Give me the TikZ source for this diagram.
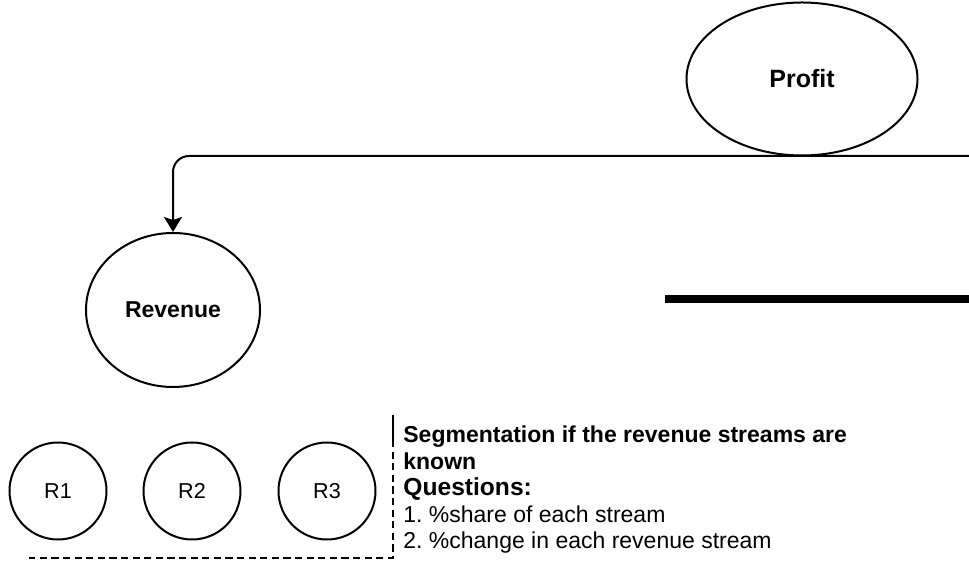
\documentclass[tikz,border=0pt]{standalone}
\usepackage{fontspec}
\setmainfont{Liberation Sans}
\usetikzlibrary{shapes.geometric,arrows.meta}
\frenchspacing

\begin{document}
\begin{tikzpicture}[x=0.5pt,y=-0.5pt,
    oval/.style={draw, ellipse, line width=1pt, inner sep=0pt},
    stream/.style={oval, minimum size=48.5pt, font=\fontsize{10.8}{13}\selectfont},
    link/.style={draw, line width=1pt, rounded corners=8pt, -{Stealth[length=7.5pt,width=9pt,inset=1.5pt]}}]
    \useasboundingbox (0,0) rectangle (969,565);

    \node[oval, minimum width=115.5pt, minimum height=76.5pt, font=\bfseries\fontsize{12.5}{15}\selectfont] (profit) at (802,79) {Profit};
    \node[oval, minimum width=87pt, minimum height=77pt, font=\bfseries\fontsize{11.5}{14}\selectfont] (revenue) at (173,310) {Revenue};
    \foreach \i/\x in {1/58,2/192,3/327}
        \node[stream] (r\i) at (\x,491) {R\i};

    % connector coming in from the right
    \coordinate (linkin) at (969,156);
    \path[link] (linkin) -| (revenue);

    \coordinate (barL) at (665,299);
    \coordinate (barR) at (969,299);
    \draw[line width=3.75pt] (barL) -- (barR);

    % bracket round the streams
    \coordinate (brtop) at (393,415);
    \coordinate (brmid) at (393,440);
    \coordinate (brbot) at (393,558);
    \coordinate (brend) at (29,558);
    \draw[line width=1pt] (brtop) -- (brmid);
    \draw[line width=1pt, dash pattern=on 3.6pt off 2.2pt] (brmid) -- (brbot) -- (brend);

    \node[anchor=north west, inner sep=0pt, align=left, font=\fontsize{11.5}{13.25}\selectfont] (notes) at (403,425.5) {
        \textbf{Segmentation if the revenue streams are}\\
        \textbf{known}\\
        {\bfseries\fontsize{12.3}{13.25}\selectfont Questions:}\\
        1. \%share of each stream\\
        2. \%change in each revenue stream
    };
\end{tikzpicture}
\end{document}
